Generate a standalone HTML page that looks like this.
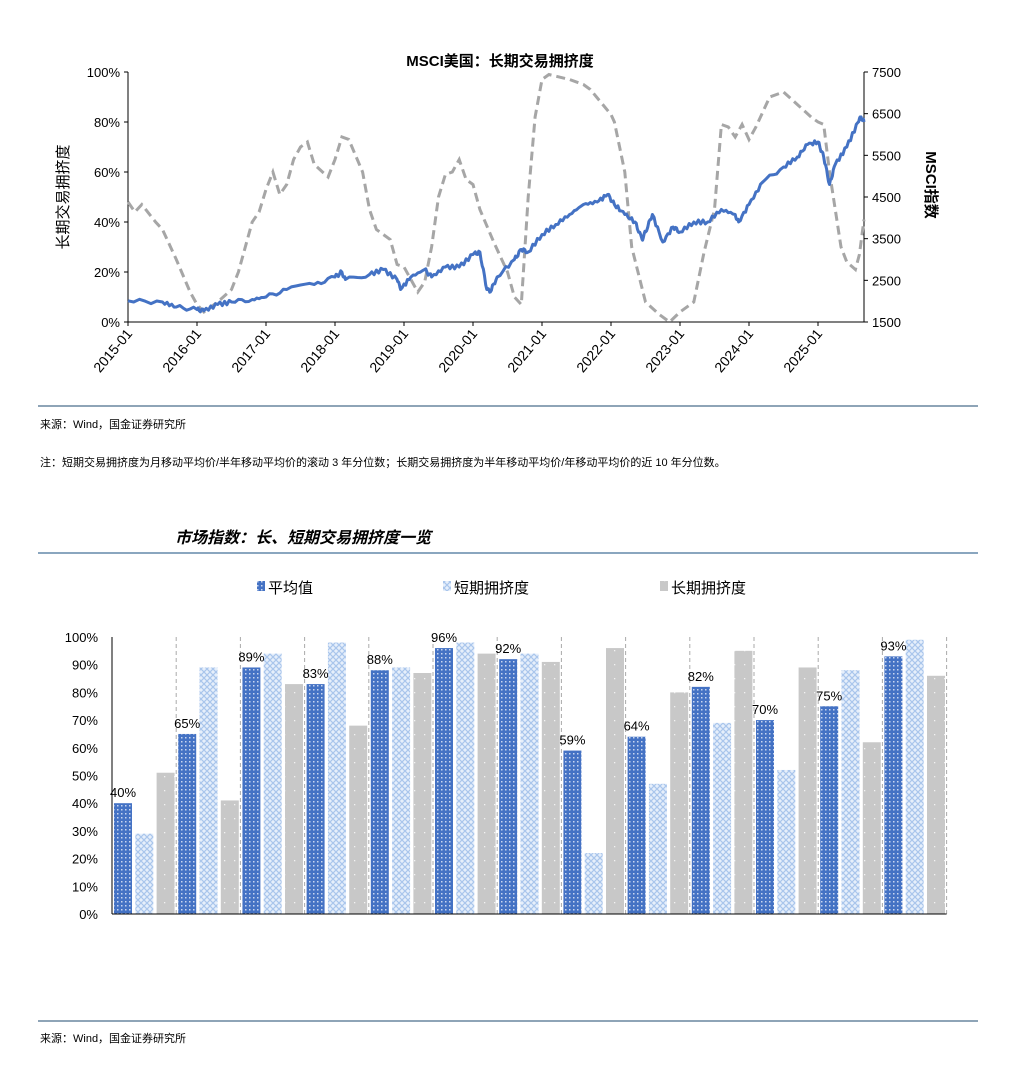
<!DOCTYPE html>
<html><head><meta charset="utf-8">
<style>
html,body{margin:0;padding:0;background:#fff;}
body{width:1024px;height:1070px;overflow:hidden;font-family:"Liberation Sans","Noto Sans CJK SC",sans-serif;}
svg text{font-family:"Liberation Sans","Noto Sans CJK SC",sans-serif;}
</style></head>
<body>
<svg id="s" width="1024" height="1070" xmlns="http://www.w3.org/2000/svg">
<defs>
<pattern id="pb" width="4" height="4" patternUnits="userSpaceOnUse"><rect width="4" height="4" fill="#4472c4"/><rect x="1" y="1" width="1.5" height="1.5" fill="#c9d6f0"/></pattern>
<pattern id="pl" width="6" height="6" patternUnits="userSpaceOnUse"><rect width="6" height="6" fill="#e6effb"/><path d="M0 0L6 6M6 0L0 6" stroke="#a9c5ec" stroke-width="1.2"/></pattern>
<pattern id="pg" width="10" height="14" patternUnits="userSpaceOnUse"><rect width="10" height="14" fill="#c8c8c8"/><rect x="4" y="6" width="1.3" height="1.3" fill="#f2f2f2"/></pattern>
</defs>
<text x="500" y="66" font-size="15" text-anchor="middle" font-weight="bold">MSCI美国：长期交易拥挤度</text>
<g id="topg"></g>
<text transform="translate(68,197) rotate(-90)" font-size="15" text-anchor="middle">长期交易拥挤度</text>
<text transform="translate(926,185) rotate(90)" font-size="15" text-anchor="middle" font-weight="bold">MSCI指数</text>
<line x1="38" y1="406" x2="978" y2="406" stroke="#4a6d8c" stroke-width="1.2"/>
<text x="40" y="428" font-size="11">来源：Wind，国金证券研究所</text>
<text x="40" y="466" font-size="11">注：短期交易拥挤度为月移动平均价/半年移动平均价的滚动 3 年分位数；长期交易拥挤度为半年移动平均价/年移动平均价的近 10 年分位数。</text>
<text x="175" y="543" font-size="16" font-weight="bold" font-style="italic">市场指数：长、短期交易拥挤度一览</text>
<line x1="38" y1="553" x2="978" y2="553" stroke="#8aa6bf" stroke-width="2"/>
<rect x="257" y="581" width="8" height="10" fill="url(#pb)"/><text x="268" y="593" font-size="15">平均值</text>
<rect x="443" y="581" width="8" height="10" fill="url(#pl)"/><text x="454" y="593" font-size="15">短期拥挤度</text>
<rect x="660" y="581" width="8" height="10" fill="url(#pg)"/><text x="671" y="593" font-size="15">长期拥挤度</text>
<g id="botg"></g>
<line x1="38" y1="1021" x2="978" y2="1021" stroke="#4a6d8c" stroke-width="1.2"/>
<text x="40" y="1042" font-size="11">来源：Wind，国金证券研究所</text>
</svg>
<script>
(function(){
var NS="http://www.w3.org/2000/svg";
function el(p,t,a,txt){var e=document.createElementNS(NS,t);for(var k in a)e.setAttribute(k,a[k]);if(txt!=null)e.textContent=txt;p.appendChild(e);return e;}
var tg=document.getElementById('topg');
var X0=128,X1=864,YT=72,YB=322,PY=69;
function xs(y){if(y<=2025)return X0+(y-2015)*PY;return 818+(y-2025)*57.5;}function ys(p){return YB-(p/100)*(YB-YT);}
el(tg,'line',{x1:X0,y1:YT,x2:X0,y2:YB,stroke:'#000','stroke-width':1});
el(tg,'line',{x1:X1,y1:YT,x2:X1,y2:YB,stroke:'#000','stroke-width':1});
el(tg,'line',{x1:X0,y1:YB,x2:X1,y2:YB,stroke:'#000','stroke-width':1});
for(var i=0;i<=5;i++){var y=ys(i*20);el(tg,'line',{x1:X0-4,y1:y,x2:X0,y2:y,stroke:'#000'});el(tg,'text',{x:X0-8,y:y+5,'font-size':13,'text-anchor':'end'},(i*20)+'%');}
for(var i=0;i<=6;i++){var v=1500+i*1000,y=YB-(i/6)*(YB-YT);el(tg,'line',{x1:X1,y1:y,x2:X1+4,y2:y,stroke:'#000'});el(tg,'text',{x:X1+8,y:y+5,'font-size':13},v);}
for(var i=0;i<=10;i++){var x=xs(2015+i);el(tg,'line',{x1:x,y1:YB,x2:x,y2:YB+4,stroke:'#000'});el(tg,'text',{transform:'translate('+(x+5)+','+(YB+12)+') rotate(-50)','font-size':14,'text-anchor':'end'},(2015+i)+'-01');}
var g=[[2015,48],[2015.1,44],[2015.2,47],[2015.4,40],[2015.5,37],[2015.7,25],[2015.9,12],[2016,7],[2016.1,4],[2016.3,8],[2016.5,13],[2016.6,20],[2016.8,40],[2016.9,44],[2017,53],[2017.1,60],[2017.2,51],[2017.3,55],[2017.4,65],[2017.5,70],[2017.6,72],[2017.7,63],[2017.9,58],[2018,65],[2018.1,74],[2018.2,73],[2018.4,60],[2018.5,45],[2018.6,37],[2018.8,33],[2018.9,23],[2019,22],[2019.1,17],[2019.2,12],[2019.3,16],[2019.4,30],[2019.5,50],[2019.6,59],[2019.7,60],[2019.8,65],[2019.9,57],[2020,55],[2020.1,45],[2020.3,32],[2020.5,20],[2020.6,10],[2020.7,7],[2020.8,50],[2020.9,82],[2021,97],[2021.1,99],[2021.4,97],[2021.6,95],[2021.7,93],[2022,83],[2022.05,80],[2022.2,60],[2022.3,30],[2022.5,8],[2022.7,3],[2022.85,0],[2023,4],[2023.2,8],[2023.35,28],[2023.5,45],[2023.6,79],[2023.7,78],[2023.8,74],[2023.9,79],[2024,73],[2024.1,78],[2024.3,90],[2024.5,92],[2024.7,87],[2024.9,82],[2025,80],[2025.1,79],[2025.2,60],[2025.4,30],[2025.5,24],[2025.65,21],[2025.72,27],[2025.8,41]];
var b=[[2015,8.5],[2015.5,8],[2015.7,6],[2016,5],[2016.1,4.5],[2016.3,7],[2016.5,8],[2016.8,9],[2017,10],[2017.3,13],[2017.7,15],[2018,18],[2018.1,20],[2018.15,17],[2018.5,19],[2018.7,21],[2018.9,17],[2018.95,13],[2019.1,18],[2019.3,21],[2019.4,18],[2019.6,22],[2019.8,22],[2020,27],[2020.1,28],[2020.2,13],[2020.25,12],[2020.35,18],[2020.6,25],[2020.7,29],[2020.8,28],[2021,35],[2021.2,39],[2021.4,43],[2021.6,47],[2021.8,48],[2021.95,51],[2022.05,47],[2022.2,43],[2022.35,40],[2022.45,33],[2022.5,36],[2022.6,43],[2022.75,32],[2022.9,38],[2023,36],[2023.2,40],[2023.4,40],[2023.6,45],[2023.8,43],[2023.85,40],[2024,47],[2024.2,56],[2024.5,62],[2024.7,66],[2024.85,71],[2025,72],[2025.1,66],[2025.2,55],[2025.3,63],[2025.5,70],[2025.7,80],[2025.75,82],[2025.8,80]];
function pts(a,jit){var s=[];for(var i=0;i<a.length;i++){s.push(xs(a[i][0]).toFixed(1)+','+ys(a[i][1]).toFixed(1));if(jit&&i<a.length-1){var n=6;for(var k=1;k<n;k++){var t=k/n,yr=a[i][0]+(a[i+1][0]-a[i][0])*t,v=a[i][1]+(a[i+1][1]-a[i][1])*t+Math.sin(yr*97)*0.8;s.push(xs(yr).toFixed(1)+','+ys(v).toFixed(1));}}}return s.join(' ');}
el(tg,'polyline',{points:pts(g,false),fill:'none',stroke:'#a6a6a6','stroke-width':3,'stroke-dasharray':'9,5'});
el(tg,'polyline',{points:pts(b,true),fill:'none',stroke:'#4472c4','stroke-width':3,'stroke-linejoin':'round'});
var bg=document.getElementById('botg');
var BX=112,BT=637,BB=914,GW=64.2;
function by(p){return BB-p/100*(BB-BT);}
for(var i=0;i<=10;i++){var y=by(i*10);el(bg,'text',{x:BX-14,y:y+5,'font-size':13,'text-anchor':'end'},(i*10)+'%');}
var d=[[40,29,51],[65,89,41],[89,94,83],[83,98,68],[88,89,87],[96,98,94],[92,94,91],[59,22,96],[64,47,80],[82,69,95],[70,52,89],[75,88,62],[93,99,86]];
var fills=['url(#pb)','url(#pl)','url(#pg)'];
for(var i=0;i<13;i++){var gx=BX+i*GW;
 el(bg,'line',{x1:gx+GW,y1:BT,x2:gx+GW,y2:BB,stroke:'#aaa','stroke-dasharray':'4,3'});
 for(var j=0;j<3;j++){var v=d[i][j],x=gx+2+j*21.3;el(bg,'rect',{x:x,y:by(v),width:18,height:BB-by(v),fill:fills[j]});}
 el(bg,'text',{x:gx+11,y:by(d[i][0])-6,'font-size':13,'text-anchor':'middle'},d[i][0]+'%');
}
el(bg,'line',{x1:BX,y1:BT,x2:BX,y2:BB,stroke:'#000'});
el(bg,'line',{x1:BX,y1:BB,x2:BX+13*GW,y2:BB,stroke:'#000'});
})();
</script>
</body></html>
